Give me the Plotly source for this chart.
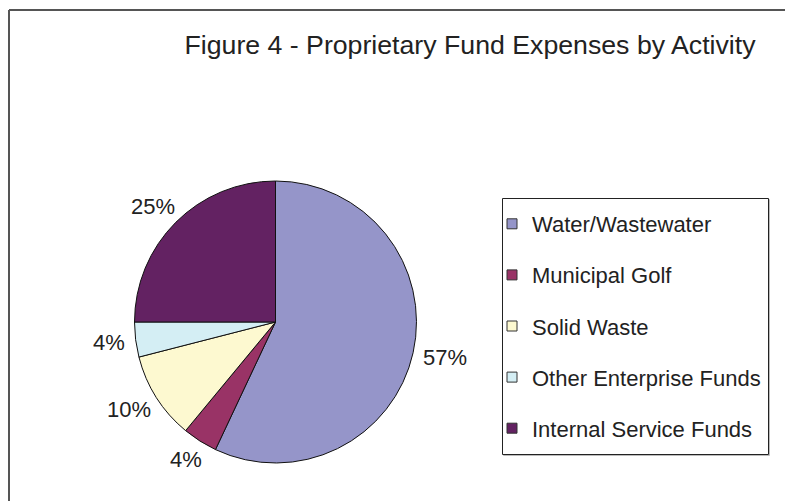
import math
import plotly.graph_objects as go

categories = ["Water/Wastewater", "Municipal Golf", "Solid Waste",
              "Other Enterprise Funds", "Internal Service Funds"]
values = [57, 4, 10, 4, 25]
colors = ["#9595C9", "#993366", "#FDF9D0", "#D4EEF4", "#632262"]
title_text = "Figure 4 - Proprietary Fund Expenses by Activity"

OFF = 8  # page body margin in the browser
W, H = 793 - OFF, 501 - OFF
FONT = "Liberation Sans, Arial, sans-serif"
TXT = "#222222"
LABEL_SIZE = 22


def px(x):
    return (x - OFF) / W


def py(y):
    return 1 - (y - OFF) / H


fig = go.Figure()

cx, cy, r = 275.5, 322.0, 141.0
dx = r / W
fig.add_trace(go.Pie(
    labels=categories, values=values, sort=False, direction="clockwise",
    rotation=0,
    marker=dict(colors=colors, line=dict(color="#111111", width=1)),
    textinfo="none",
    showlegend=False,
    domain=dict(x=[px(cx) - dx, px(cx) + dx],
                y=[py(cy + r), py(cy - r)]),
))

# percentage labels outside each slice, box pushed outward along the
# slice's mid-angle (positions derived from the values)
total = sum(values)
cum = 0.0
annotations = []
for v in values:
    mid = (cum + v / 2) / total * 2 * math.pi  # clockwise from 12 o'clock
    cum += v
    ux, uy = math.sin(mid), -math.cos(mid)
    txt = f"{v / total * 100:.0f}%"
    tw = (0.556 * (len(txt) - 1) + 0.889) * LABEL_SIZE
    th = LABEL_SIZE
    d = r + 10.7
    lx = cx + d * ux + tw / 2 * ux
    ly = cy + d * uy + th / 2 * uy
    annotations.append(dict(
        x=px(lx), y=py(ly), xref="paper", yref="paper",
        text=txt, showarrow=False,
        xanchor="center", yanchor="middle",
        font=dict(family=FONT, size=LABEL_SIZE, color=TXT)))

for cat, col in zip(categories, colors):
    fig.add_trace(go.Scatter(
        x=[None], y=[None], mode="markers", name=cat, legendgroup=cat,
        marker=dict(symbol="square", size=10, color=col,
                    line=dict(color="#333333", width=1)),
    ))

fig.update_layout(
    width=W, height=H,
    margin=dict(l=0, r=0, t=0, b=0, autoexpand=False),
    paper_bgcolor="white", plot_bgcolor="white",
    xaxis=dict(visible=False), yaxis=dict(visible=False),
    title=dict(text=title_text, x=px(470), xanchor="center",
               y=py(45), yanchor="middle",
               font=dict(family=FONT, size=26.7, color=TXT)),
    legend=dict(x=px(492), y=py(203), xanchor="left", yanchor="top",
                borderwidth=0, bgcolor="rgba(0,0,0,0)",
                font=dict(family=FONT, size=22, color=TXT),
                tracegroupgap=19.5, itemsizing="trace"),
    annotations=annotations,
    shapes=[
        dict(type="line", xref="paper", yref="paper",
             x0=px(9), x1=1.02, y0=py(10), y1=py(10),
             line=dict(color="#555555", width=2)),
        dict(type="line", xref="paper", yref="paper",
             x0=px(9), x1=px(9), y0=py(10), y1=-0.02,
             line=dict(color="#555555", width=2)),
        dict(type="rect", xref="paper", yref="paper",
             x0=px(503.5), x1=px(769.5), y0=py(199.5), y1=py(455.5),
             line=dict(color="#BBBBBB", width=1), layer="below"),
        dict(type="rect", xref="paper", yref="paper",
             x0=px(502.5), x1=px(768.5), y0=py(198.5), y1=py(454.5),
             fillcolor="white",
             line=dict(color="#222222", width=1), layer="below"),
    ],
)

fig.write_html("out.html")
